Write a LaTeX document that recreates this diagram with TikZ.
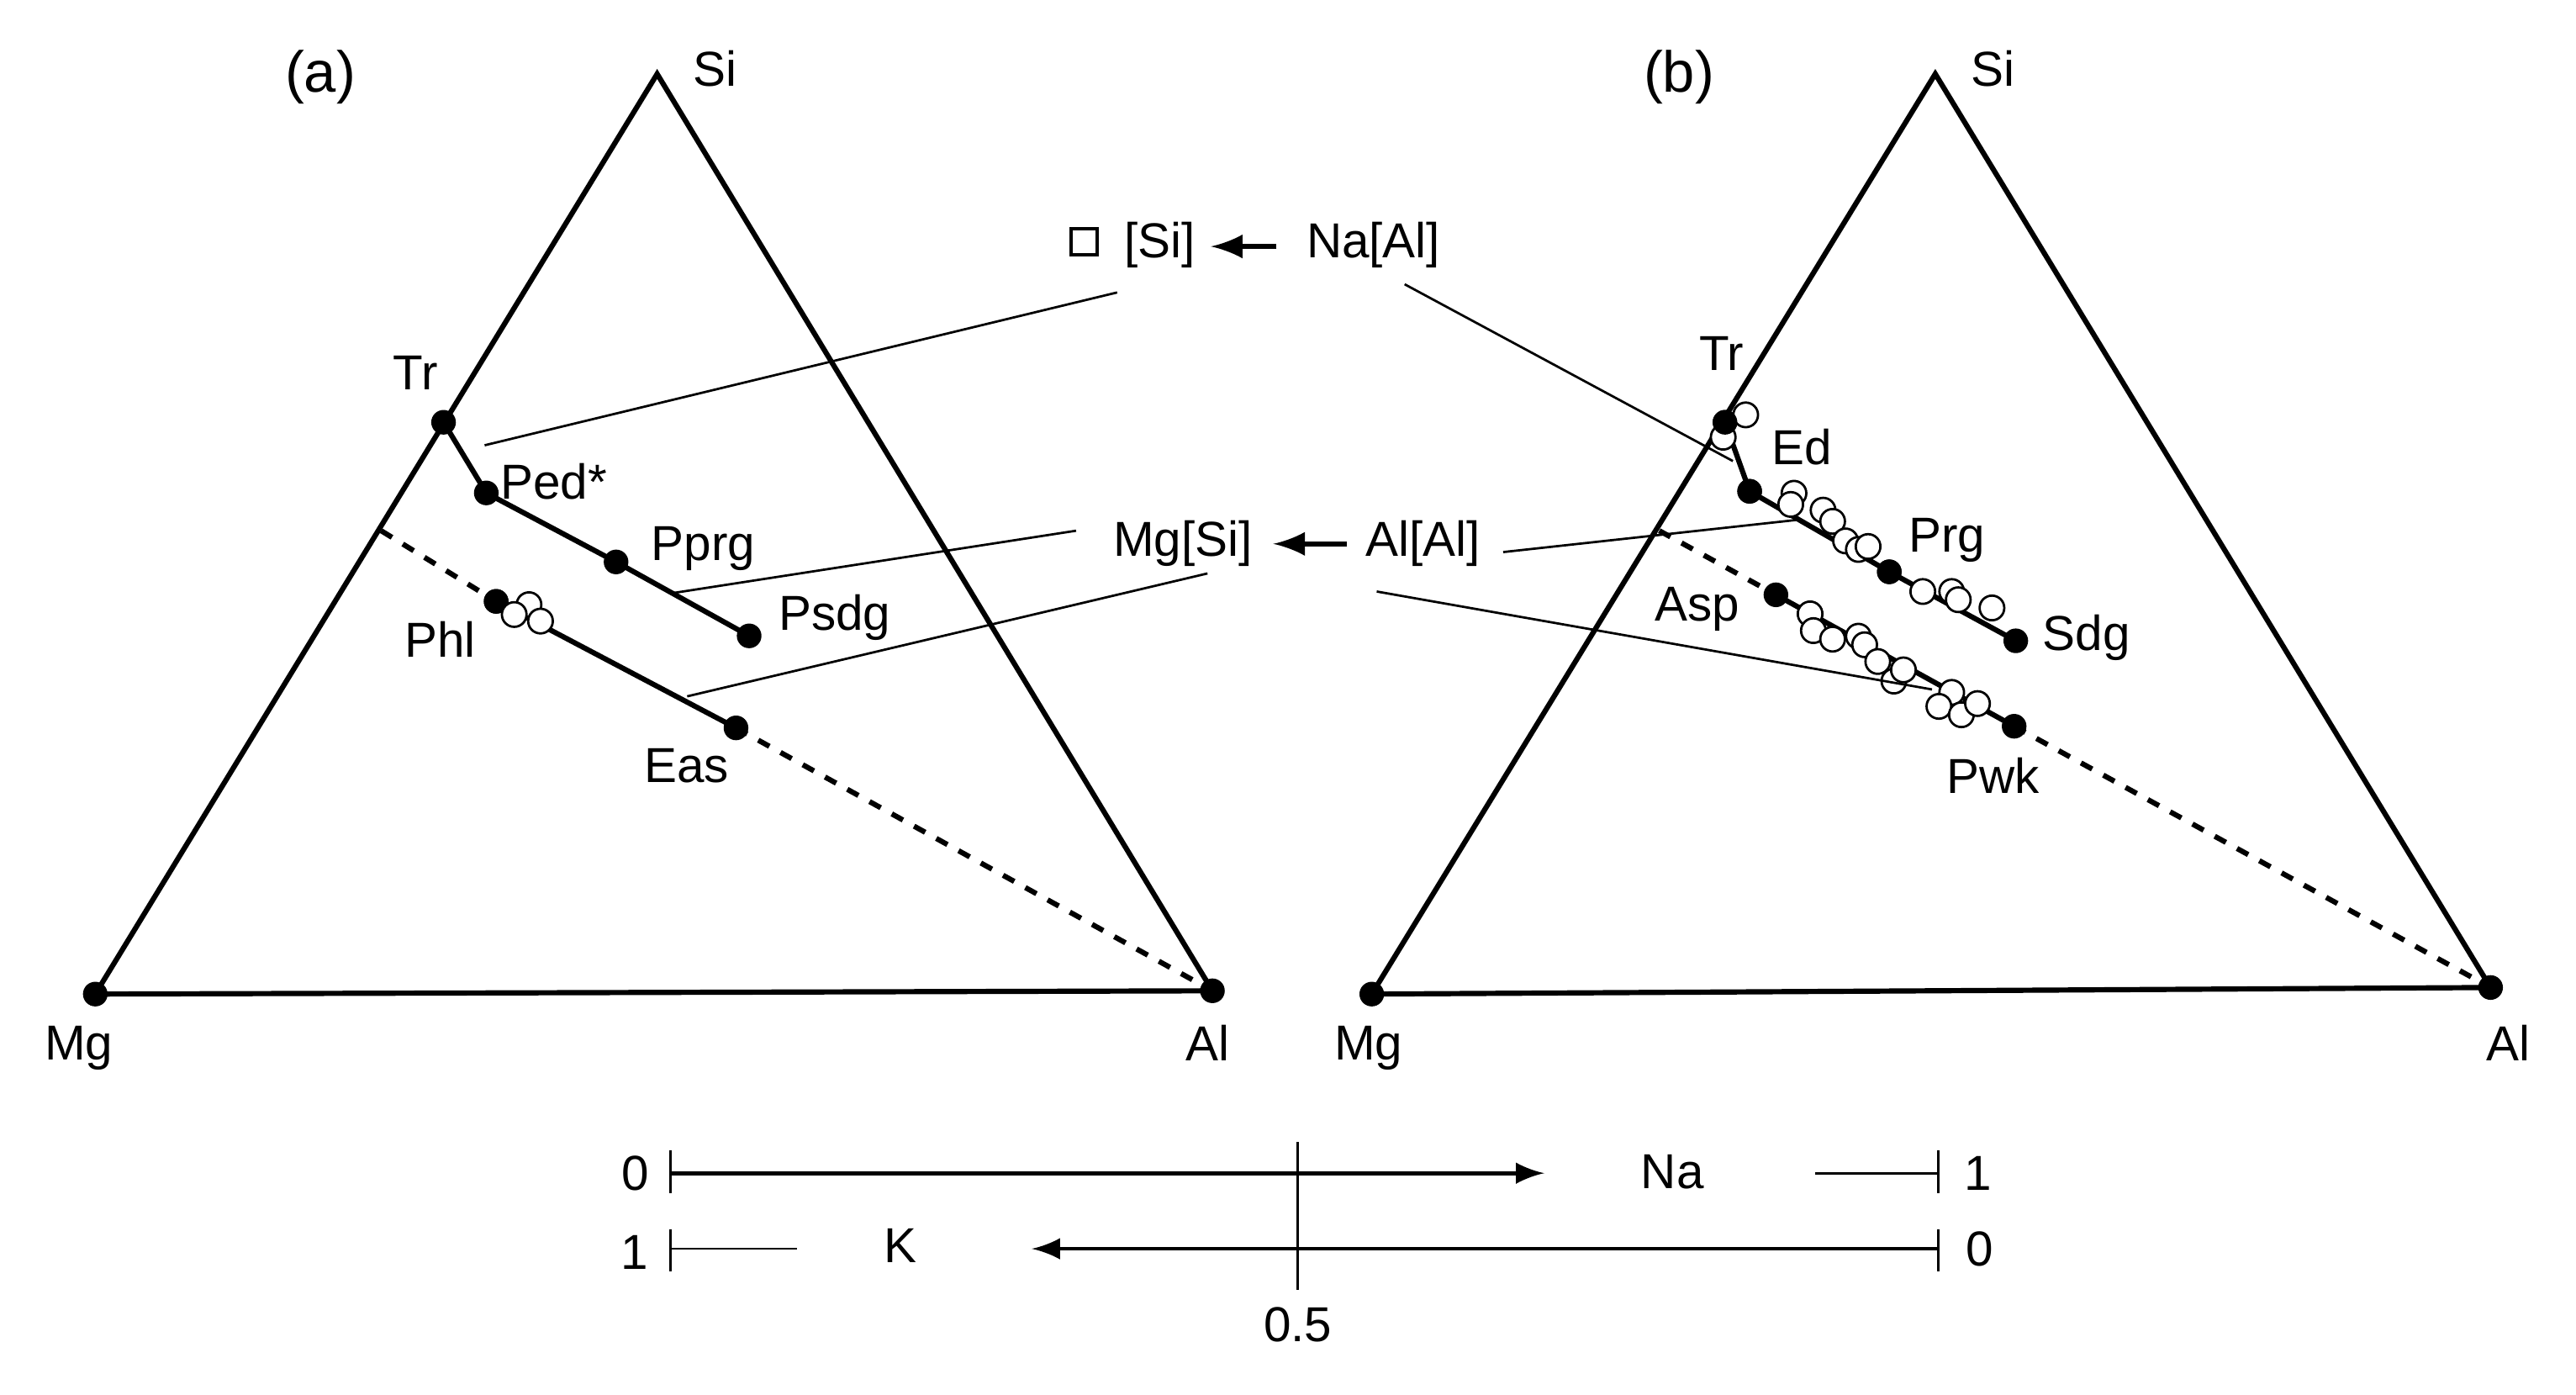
\documentclass[tikz,border=0pt]{standalone}
\usepackage{fontspec}
\setmainfont{Liberation Sans}
\begin{document}
\begin{tikzpicture}[x=0.01cm,y=-0.01cm,
  dot/.style={circle,fill=black,inner sep=0pt,minimum size=0.15cm},
  oc/.style={circle,draw=black,fill=white,line width=0.4pt,inner sep=0pt,minimum size=0.15cm},
  lab/.style={font=\fontsize{8.5}{10}\selectfont,inner sep=1pt},
  edge/.style={line width=0.9pt},
  tie/.style={line width=0.9pt},
  dashln/.style={line width=0.9pt,dash pattern=on 2.2pt off 2.2pt},
  thinln/.style={line width=0.4pt}]
\useasboundingbox (0,0) rectangle (1568,849);
% ---------- panel a ----------
\coordinate (aSi) at (400,45); \node[dot] (aMg) at (58,605) {}; \node[dot] (aAl) at (738,603) {};
\draw[edge] (aMg.center) -- (aSi) -- (aAl.center) -- (aMg.center);
\coordinate (aD) at (232,323);
\node[dot] (Tr) at (270,257) {};
\node[dot] (Ped) at (296,300) {};
\node[dot] (Pprg) at (375,342) {};
\node[dot] (Psdg) at (456,387) {};
\node[dot] (Phl) at (302,366) {};
\node[dot] (Eas) at (448,443) {};
\draw[tie] (Tr.center) -- (Ped.center) -- (Pprg.center) -- (Psdg.center);
\draw[dashln] (aD) -- (Phl.center);
\draw[tie] (Phl.center) -- (Eas.center);
\draw[dashln] (Eas.center) -- (aAl.center);
\node[dot] at (Phl) {};
\node[oc] at (322,368) {}; \node[oc] at (313,374) {}; \node[oc] at (329,378) {};
\node[lab,font=\fontsize{10}{12}\selectfont] (la) at (195,47) {(a)};
\node[lab] (laSi) at (435,42) {Si};
\node[lab] (laMg) at (48,638) {Mg};
\node[lab] (laAl) at (735,635) {Al};
\node[lab] (lTr) at (253,227) {Tr};
\node[lab] (lPed) at (337,293) {Ped*};
\node[lab] (lPprg) at (428,334) {Pprg};
\node[lab] (lPsdg) at (508,376) {Psdg};
\node[lab] (lPhl) at (268,389) {Phl};
\node[lab] (lEas) at (418,466) {Eas};
% ---------- panel b ----------
\coordinate (bSi) at (1178,45); \node[dot] (bMg) at (835,605) {}; \node[dot] (bAl) at (1516,601) {};
\draw[edge] (bMg.center) -- (bSi) -- (bAl.center) -- (bMg.center);
\coordinate (bD) at (1010,323);
\node[dot] (bTr) at (1050,257) {};
\node[dot] (Ed) at (1065,299) {};
\node[dot] (Prg) at (1150,348) {};
\node[dot] (Sdg) at (1227,390) {};
\node[dot] (Asp) at (1081,362) {};
\node[dot] (Pwk) at (1226,442) {};
\draw[tie] (bTr.center) -- (Ed.center) -- (Prg.center) -- (Sdg.center);
\draw[dashln] (bD) -- (Asp.center);
\draw[tie] (Asp.center) -- (Pwk.center);
\draw[dashln] (Pwk.center) -- (bAl.center);
\foreach \p in {(1062.6,252.5),(1048.9,266.1),(1092,300.2),(1090,307),(1109.7,310.5),(1115.5,317.3),(1123.4,329.2),(1131.2,334.4),(1137.1,332.6),(1170.4,360),(1188,360),(1192,365),(1212.5,370),
 (1101.8,373.6),(1103.8,383.8),(1115.5,389),(1131.2,387.2),(1135,392.4),(1143,402.6),(1152.8,414.5),(1158.6,407.7),(1188,421.4),(1180.2,429.9),(1193.9,435),(1203.7,428.2)}
  \node[oc] at \p {};
\node[dot] at (bTr) {}; \node[dot] at (Ed) {}; \node[dot] at (Prg) {};
\node[lab,font=\fontsize{10}{12}\selectfont] (lb) at (1022,47) {(b)};
\node[lab] (lbSi) at (1213,42) {Si};
\node[lab] (lbMg) at (833,638) {Mg};
\node[lab] (lbAl) at (1527,635) {Al};
\node[lab] (lbTr) at (1048,215) {Tr};
\node[lab] (lEd) at (1097,272) {Ed};
\node[lab] (lPrg) at (1185,329) {Prg};
\node[lab] (lSdg) at (1270,388) {Sdg};
\node[lab] (lAsp) at (1033,371) {Asp};
\node[lab] (lPwk) at (1213,472) {Pwk};
% ---------- centre ----------
\node[draw,line width=0.6pt,minimum size=0.16cm,inner sep=0pt] (sq) at (660,147) {};
\node[lab] (Si1) at (706,149) {[Si]};
\node[lab] (NaAl) at (836,149) {Na[Al]};
\draw[line width=0.9pt,-latex] (777,150) -- (737,150);
\node[lab] (MgSi) at (720,331) {Mg[Si]};
\node[lab] (AlAl) at (866,331) {Al[Al]};
\draw[line width=0.9pt,-latex] (820,331) -- (775,331);
\coordinate (c1) at (295,271);
\coordinate (c2) at (410.5,360.8);
\coordinate (c3) at (418.3,423.8);
\coordinate (c4) at (1054.8,280.6);
\coordinate (c5) at (1094,316.4);
\coordinate (c6) at (1176,419.6);
\draw[thinln] (680,178) -- (c1);
\draw[thinln] (655,323) -- (c2);
\draw[thinln] (735,349) -- (c3);
\draw[thinln] (855,173) -- (c4);
\draw[thinln] (915,336) -- (c5);
\draw[thinln] (838,360) -- (c6);
% ---------- scale ----------
\coordinate (s0) at (408,714); \coordinate (s1) at (1180,714);
\coordinate (t0) at (408,760); \coordinate (t1) at (1180,760);
\draw[thinln] (408,700) -- (408,726);
\draw[thinln] (408,748) -- (408,774);
\draw[thinln] (1180,700) -- (1180,726);
\draw[thinln] (1180,748) -- (1180,774);
\draw[thinln] (790,695) -- (790,785);
\draw[line width=0.7pt,-latex] (s0) -- (940,714);
\draw[thinln] (1105,714) -- (s1);
\draw[thinln] (t0) -- (485,760);
\draw[line width=0.7pt,-latex] (t1) -- (628,760);
\node[lab] (n0) at (387,714) {0};
\node[lab] (nNa) at (1018,713) {Na};
\node[lab] (n1) at (1204,714) {1};
\node[lab] (k1) at (386,762) {1};
\node[lab] (kK) at (548,758) {K};
\node[lab] (k0) at (1205,760) {0};
\node[lab] (half) at (790,806) {0.5};
\end{tikzpicture}
\end{document}
